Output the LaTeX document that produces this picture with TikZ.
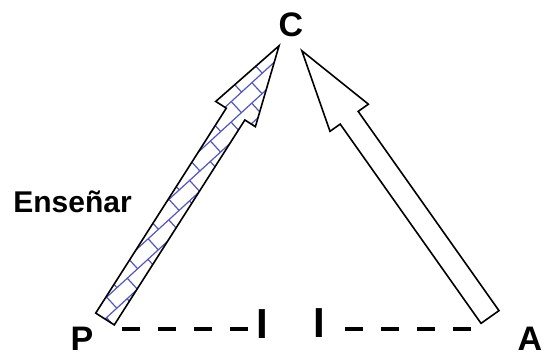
\documentclass[tikz,border=0pt]{standalone}
\usepackage{fontspec}
\setmainfont{Liberation Sans}
\begin{document}
\begin{tikzpicture}[x=1pt,y=1pt,
  lbl/.style={font=\bfseries\fontsize{34}{36}\selectfont, inner sep=0pt, anchor=base},
  bar/.style={font=\bfseries\fontsize{42}{44}\selectfont, inner sep=0pt, anchor=base},
  blockarrow/.style={draw=black, line width=1.6pt, line join=miter, fill=white},
  brick/.style={draw={rgb,255:red,85;green,85;blue,195}, line width=1.2pt},
  dashline/.style={line width=4pt, dash pattern=on 18pt off 18pt}]
\useasboundingbox (0,0) rectangle (544,354);
% labels
\node[lbl] (C) at (291,317) {C};
\node[lbl] (P) at (82,4) {P};
\node[lbl] (A) at (530,4) {A};
\node[font=\bfseries\fontsize{30}{32}\selectfont, inner sep=0pt, anchor=base] (ens) at (72.5,141) {Enseñar};
\node[bar] (I1) at (262.5,16) {I};
\node[bar] (I2) at (319,17) {I};
% dashed lines
\coordinate (d1s) at (122,25);
\coordinate (d1e) at (248,25);
\coordinate (d2s) at (345,25);
\coordinate (d2e) at (471,25);
\draw[dashline] (d1s) -- (d1e);
\draw[dashline] (d2s) -- (d2e);
% left arrow (patterned)
\begin{scope}[shift={(105,35)}, rotate=57.5]
  \path[fill=white] (0,-11) -- (243,-11) -- (243,-23.5) -- (324,0) -- (243,23.5) -- (243,11) -- (0,11) -- cycle;
  \begin{scope}
    \clip (0,-11) -- (243,-11) -- (243,-23.5) -- (324,0) -- (243,23.5) -- (243,11) -- (0,11) -- cycle;
    \begin{scope}[rotate=-15]
      \foreach \k in {0,...,12} {
        \draw[brick] (-40,{-90+15*\k}) -- (380,{-90+15*\k});
        \foreach \j in {0,...,15} {
          \draw[brick] ({-40+28*\j+mod(\k,2)*14},{-90+15*\k}) -- ++(0,15);
        }
      }
    \end{scope}
  \end{scope}
  \draw[blockarrow, fill=none] (0,-11) -- (243,-11) -- (243,-23.5) -- (324,0) -- (243,23.5) -- (243,11) -- (0,11) -- cycle;
\end{scope}
% right arrow (plain)
\begin{scope}[shift={(490,37)}, rotate=125.25]
  \draw[blockarrow] (0,-11) -- (244,-11) -- (244,-23.5) -- (326,0) -- (244,23.5) -- (244,11) -- (0,11) -- cycle;
\end{scope}
\end{tikzpicture}
\end{document}
